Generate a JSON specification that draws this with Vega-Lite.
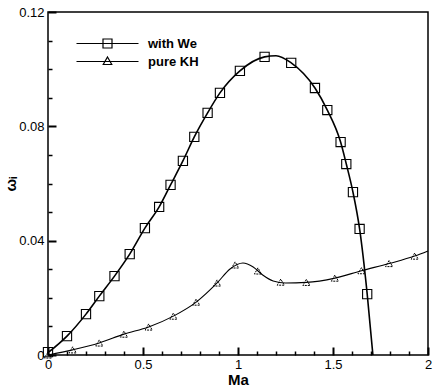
{
  "$schema": "https://vega.github.io/schema/vega-lite/v6.json",
  "width": 380,
  "height": 343,
  "autosize": {"type": "none"},
  "padding": {"left": 48, "top": 12, "right": 8, "bottom": 36},
  "background": "white",
  "config": {
    "view": {"stroke": "black", "strokeWidth": 1.5},
    "font": "Liberation Sans",
    "axis": {"domain": false, "ticks": true, "tickColor": "black", "tickOpacity": 1, "labelColor": "black", "labelFont": "Liberation Sans", "labelFontSize": 13, "titleFont": "Liberation Sans", "titleColor": "black"}
  },
  "resolve": {"axis": {"x": "independent", "y": "independent"}},
  "datasets": {
    "curves": [
      {"series": "with We", "Ma": 0.0, "w": 0.0008},
      {"series": "with We", "Ma": 0.1, "w": 0.0066},
      {"series": "with We", "Ma": 0.2, "w": 0.0143},
      {"series": "with We", "Ma": 0.27, "w": 0.0206},
      {"series": "with We", "Ma": 0.35, "w": 0.0276},
      {"series": "with We", "Ma": 0.43, "w": 0.0353},
      {"series": "with We", "Ma": 0.51, "w": 0.0444},
      {"series": "with We", "Ma": 0.585, "w": 0.0518},
      {"series": "with We", "Ma": 0.645, "w": 0.0595},
      {"series": "with We", "Ma": 0.71, "w": 0.0679},
      {"series": "with We", "Ma": 0.77, "w": 0.0763},
      {"series": "with We", "Ma": 0.84, "w": 0.0847},
      {"series": "with We", "Ma": 0.905, "w": 0.0917},
      {"series": "with We", "Ma": 1.01, "w": 0.0994},
      {"series": "with We", "Ma": 1.14, "w": 0.1043},
      {"series": "with We", "Ma": 1.2, "w": 0.1047},
      {"series": "with We", "Ma": 1.28, "w": 0.1022},
      {"series": "with We", "Ma": 1.405, "w": 0.0934},
      {"series": "with We", "Ma": 1.47, "w": 0.0857},
      {"series": "with We", "Ma": 1.54, "w": 0.0745},
      {"series": "with We", "Ma": 1.57, "w": 0.0668},
      {"series": "with We", "Ma": 1.605, "w": 0.057},
      {"series": "with We", "Ma": 1.64, "w": 0.0441},
      {"series": "with We", "Ma": 1.68, "w": 0.0213},
      {"series": "with We", "Ma": 1.71, "w": 0.0},
      {"series": "pure KH", "Ma": 0.0, "w": 0.0},
      {"series": "pure KH", "Ma": 0.13, "w": 0.0018},
      {"series": "pure KH", "Ma": 0.27, "w": 0.0042},
      {"series": "pure KH", "Ma": 0.4, "w": 0.0073},
      {"series": "pure KH", "Ma": 0.53, "w": 0.0098},
      {"series": "pure KH", "Ma": 0.66, "w": 0.0136},
      {"series": "pure KH", "Ma": 0.78, "w": 0.0185},
      {"series": "pure KH", "Ma": 0.89, "w": 0.0252},
      {"series": "pure KH", "Ma": 0.958, "w": 0.0301},
      {"series": "pure KH", "Ma": 1.026, "w": 0.0322},
      {"series": "pure KH", "Ma": 1.08, "w": 0.0308},
      {"series": "pure KH", "Ma": 1.13, "w": 0.028},
      {"series": "pure KH", "Ma": 1.185, "w": 0.0259},
      {"series": "pure KH", "Ma": 1.25, "w": 0.0252},
      {"series": "pure KH", "Ma": 1.36, "w": 0.0254},
      {"series": "pure KH", "Ma": 1.51, "w": 0.0269},
      {"series": "pure KH", "Ma": 1.65, "w": 0.0295},
      {"series": "pure KH", "Ma": 1.795, "w": 0.032},
      {"series": "pure KH", "Ma": 1.93, "w": 0.0346},
      {"series": "pure KH", "Ma": 2.0, "w": 0.0364}
    ],
    "markers": [
      {"series": "with We", "Ma": 0.0, "w": 0.001},
      {"series": "with We", "Ma": 0.1, "w": 0.0066},
      {"series": "with We", "Ma": 0.2, "w": 0.0143},
      {"series": "with We", "Ma": 0.27, "w": 0.0206},
      {"series": "with We", "Ma": 0.35, "w": 0.0276},
      {"series": "with We", "Ma": 0.43, "w": 0.0353},
      {"series": "with We", "Ma": 0.51, "w": 0.0444},
      {"series": "with We", "Ma": 0.585, "w": 0.0518},
      {"series": "with We", "Ma": 0.645, "w": 0.0595},
      {"series": "with We", "Ma": 0.71, "w": 0.0679},
      {"series": "with We", "Ma": 0.77, "w": 0.0763},
      {"series": "with We", "Ma": 0.84, "w": 0.0847},
      {"series": "with We", "Ma": 0.905, "w": 0.0917},
      {"series": "with We", "Ma": 1.01, "w": 0.0994},
      {"series": "with We", "Ma": 1.14, "w": 0.1043},
      {"series": "with We", "Ma": 1.28, "w": 0.1022},
      {"series": "with We", "Ma": 1.405, "w": 0.0934},
      {"series": "with We", "Ma": 1.47, "w": 0.0857},
      {"series": "with We", "Ma": 1.54, "w": 0.0745},
      {"series": "with We", "Ma": 1.57, "w": 0.0668},
      {"series": "with We", "Ma": 1.605, "w": 0.057},
      {"series": "with We", "Ma": 1.64, "w": 0.0441},
      {"series": "with We", "Ma": 1.68, "w": 0.0213},
      {"series": "pure KH", "Ma": 0.0, "w": 0.0},
      {"series": "pure KH", "Ma": 0.13, "w": 0.0018},
      {"series": "pure KH", "Ma": 0.27, "w": 0.0042},
      {"series": "pure KH", "Ma": 0.4, "w": 0.0073},
      {"series": "pure KH", "Ma": 0.53, "w": 0.0098},
      {"series": "pure KH", "Ma": 0.66, "w": 0.0136},
      {"series": "pure KH", "Ma": 0.78, "w": 0.0185},
      {"series": "pure KH", "Ma": 0.89, "w": 0.0252},
      {"series": "pure KH", "Ma": 0.985, "w": 0.0315},
      {"series": "pure KH", "Ma": 1.105, "w": 0.0294},
      {"series": "pure KH", "Ma": 1.225, "w": 0.0255},
      {"series": "pure KH", "Ma": 1.36, "w": 0.0254},
      {"series": "pure KH", "Ma": 1.51, "w": 0.0269},
      {"series": "pure KH", "Ma": 1.65, "w": 0.0295},
      {"series": "pure KH", "Ma": 1.795, "w": 0.032},
      {"series": "pure KH", "Ma": 1.93, "w": 0.0346}
    ]
  },
  "layer": [
    {
      "data": {"name": "curves"},
      "transform": [{"filter": "datum.series === 'with We'"}],
      "mark": {"type": "line", "color": "black", "strokeWidth": 1.6, "interpolate": "monotone"},
      "encoding": {
        "x": {
          "field": "Ma", "type": "quantitative",
          "scale": {"domain": [0, 2], "nice": false, "zero": false},
          "axis": {
            "orient": "bottom", "offset": -8, "grid": false, "tickWidth": 2,
            "title": "Ma", "titleFontSize": 15, "titleFontWeight": "bold", "titlePadding": 1,
            "values": [0, 0.5, 1, 1.5, 2], "format": ".1~f",
            "tickSize": 8, "labelPadding": 3, "labelFlush": false, "labelOverlap": false
          }
        },
        "y": {
          "field": "w", "type": "quantitative",
          "scale": {"domain": [0, 0.12], "nice": false},
          "axis": {
            "orient": "left", "offset": -8, "grid": false, "tickWidth": 2,
            "title": "ωᵢ", "titleFontSize": 15, "titleFontWeight": "bold", "titlePadding": 0,
            "values": [0, 0.04, 0.08, 0.12], "format": ".2~f",
            "tickSize": 8, "labelPadding": 4, "labelFlush": false, "labelOverlap": false
          }
        }
      }
    },
    {
      "data": {"name": "curves"},
      "transform": [{"filter": "datum.series === 'pure KH'"}],
      "mark": {"type": "line", "color": "black", "strokeWidth": 1.1, "interpolate": "monotone"},
      "encoding": {
        "x": {
          "field": "Ma", "type": "quantitative",
          "axis": {
            "orient": "bottom", "offset": -4, "grid": false, "title": null, "labels": false, "tickWidth": 1.5,
            "values": [0.1,0.2,0.3,0.4,0.6,0.7,0.8,0.9,1.1,1.2,1.3,1.4,1.6,1.7,1.8,1.9],
            "tickSize": 4
          }
        },
        "y": {
          "field": "w", "type": "quantitative",
          "axis": {
            "orient": "left", "offset": -4, "grid": false, "title": null, "labels": false, "tickWidth": 1.5,
            "values": [0.01,0.02,0.03,0.05,0.06,0.07,0.09,0.1,0.11],
            "tickSize": 4
          }
        }
      }
    },
    {
      "data": {"name": "markers"},
      "transform": [{"filter": "datum.series === 'pure KH'"}],
      "mark": {"type": "point", "shape": "triangle-up", "filled": false, "stroke": "black", "strokeWidth": 1, "strokeDash": [2, 1], "size": 50, "opacity": 1},
      "encoding": {
        "x": {"field": "Ma", "type": "quantitative", "axis": null},
        "y": {"field": "w", "type": "quantitative", "axis": null}
      }
    },
    {
      "data": {"name": "markers"},
      "mark": {"type": "point", "filled": false, "stroke": "black", "strokeWidth": 1.2, "opacity": 0},
      "encoding": {
        "x": {"field": "Ma", "type": "quantitative", "axis": null},
        "y": {"field": "w", "type": "quantitative", "axis": null},
        "shape": {
          "field": "series", "type": "nominal",
          "scale": {"domain": ["with We", "pure KH"], "range": ["M-6.2,0H6.2M-0.9,-0.9H0.9V0.9H-0.9Z", "M-6.2,0H6.2M0,-0.9L0.85,0.6H-0.85Z"]},
          "legend": {
            "title": null, "orient": "none", "legendX": 53, "legendY": 25, "padding": 0,
            "symbolSize": 100, "labelOffset": 34, "rowPadding": 3,
            "symbolStrokeColor": "black", "symbolFillColor": "transparent", "symbolStrokeWidth": 1.2, "symbolOpacity": 1,
            "labelFont": "Liberation Sans", "labelFontSize": 13, "labelFontWeight": "bold", "labelColor": "black",
            "encode": {
              "symbols": {
                "update": {
                  "stroke": {"value": "black"},
                  "fill": {"value": "transparent"},
                  "opacity": {"value": 1}
                }
              }
            }
          }
        }
      }
    },
    {
      "data": {"name": "markers"},
      "transform": [{"filter": "datum.series === 'with We'"}],
      "mark": {"type": "point", "shape": "square", "filled": false, "stroke": "black", "strokeWidth": 1.1, "size": 85, "opacity": 1},
      "encoding": {
        "x": {"field": "Ma", "type": "quantitative", "axis": null},
        "y": {"field": "w", "type": "quantitative", "axis": null}
      }
    }
  ]
}
